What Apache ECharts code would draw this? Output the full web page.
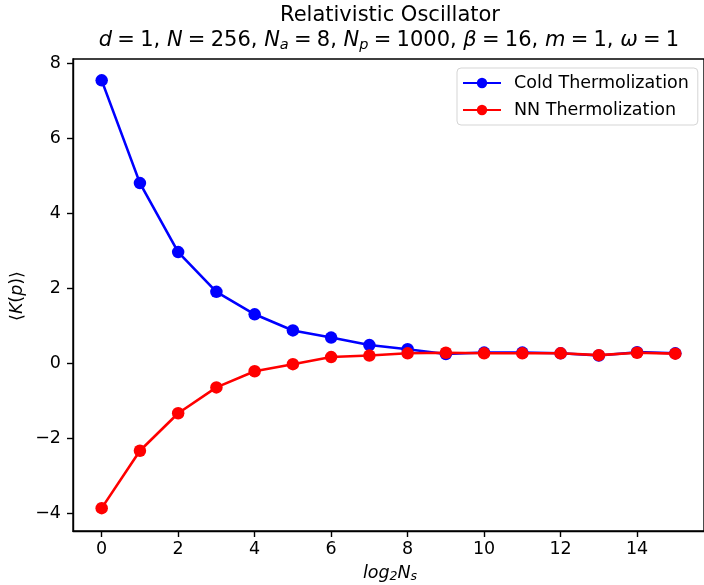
<!DOCTYPE html>
<html>
<head>
<meta charset="utf-8">
<script src="https://cdn.jsdelivr.net/npm/echarts@6/dist/echarts.min.js"></script>
<style>html,body{margin:0;padding:0;background:#fff}#c{width:704px;height:585px}</style>
</head>
<body>
<div id="c"></div>
<script>
const xValues = [0,1,2,3,4,5,6,7,8,9,10,11,12,13,14,15];
const coldValues = [7.55,4.81,2.97,1.91,1.31,0.88,0.69,0.49,0.38,0.25,0.29,0.29,0.27,0.21,0.30,0.27];
const nnValues = [-3.86,-2.33,-1.33,-0.64,-0.21,-0.02,0.17,0.21,0.27,0.285,0.27,0.27,0.27,0.22,0.285,0.26];
const xTicks = [0,2,4,6,8,10,12,14];
const yTicks = [-4,-2,0,2,4,6,8];
const seriesNames = ['Cold Thermolization','NN Thermolization'];

const FONT = 'DejaVu Sans';
const chart = echarts.init(document.getElementById('c'), null, {renderer:'canvas'});
const mk = (vals) => xValues.map((x,i)=>[x, vals[i]]);

const TF = 21;
const LF = 17.5;
const rich = {
  i:{fontFamily:FONT,fontStyle:'italic',fontSize:TF,color:'#000'},
  n:{fontFamily:FONT,fontSize:TF,color:'#000'},
  s:{fontFamily:FONT,fontStyle:'italic',fontSize:14.5,color:'#000',verticalAlign:'bottom',padding:[9,0,0,0]}
};
const EQ = '\u2005=\u2005';

chart.setOption({
  animation:false,
  backgroundColor:'#fff',
  grid:{left:73,top:59,right:-3,bottom:54,show:true,borderColor:'#000',borderWidth:1.4,backgroundColor:'transparent'},
  xAxis:{type:'value',min:-0.75,max:15.75,
    axisLine:{show:true,onZero:false,lineStyle:{color:'#000',width:1.4}},
    splitLine:{show:false},
    axisTick:{show:true,length:6,inside:false,customValues:xTicks,lineStyle:{color:'#000',width:1.4}},
    axisLabel:{customValues:xTicks,color:'#000',fontFamily:FONT,fontSize:LF,margin:9}
  },
  yAxis:{type:'value',min:-4.47,max:8.12,
    axisLine:{show:true,onZero:false,lineStyle:{color:'#000',width:1.4}},
    splitLine:{show:false},
    axisTick:{show:true,length:6,inside:false,customValues:yTicks,lineStyle:{color:'#000',width:1.4}},
    axisLabel:{customValues:yTicks,color:'#000',fontFamily:FONT,fontSize:LF,margin:12,
      formatter:(v)=> v<0 ? '\u2212'+Math.abs(v) : String(v)}
  },
  legend:{
    orient:'vertical',left:457,top:68,
    data:seriesNames,
    itemWidth:38,itemHeight:13,itemGap:9,
    padding:[6,9,6,5],
    backgroundColor:'#fff',borderColor:'#d5d5d5',borderWidth:1,borderRadius:4,
    textStyle:{fontFamily:FONT,fontSize:LF,color:'#000',padding:[0,0,0,8]}
  },
  series:[
    {name:seriesNames[0],type:'line',data:mk(coldValues),symbol:'circle',symbolSize:12.5,
     lineStyle:{color:'#0000ff',width:2.6},itemStyle:{color:'#0000ff'},z:2},
    {name:seriesNames[1],type:'line',data:mk(nnValues),symbol:'circle',symbolSize:12.5,
     lineStyle:{color:'#ff0000',width:2.6},itemStyle:{color:'#ff0000'},z:3}
  ],
  graphic:[
    {type:'text',x:390,y:16,style:{text:'Relativistic Oscillator',fontFamily:FONT,fontSize:TF,fill:'#000',align:'center',verticalAlign:'middle'}},
    {type:'text',x:389,y:41,style:{
      text:'{i|d}{n|'+EQ+'1, }{i|N}{n|'+EQ+'256, }{i|N}{s|a}{n|'+EQ+'8, }{i|N}{s|p}{n|'+EQ+'1000, }{i|\u03b2}{n|'+EQ+'16, }{i|m}{n|'+EQ+'1, }{i|\u03c9}{n|'+EQ+'1}',
      rich:rich,fontFamily:FONT,fontSize:TF,fill:'#000',align:'center',verticalAlign:'middle'}},
    {type:'text',x:390,y:573,style:{
      text:'{i|log}{s|2}{i|N}{s|s}',
      rich:{i:{fontFamily:FONT,fontStyle:'italic',fontSize:LF,color:'#000'},
            s:{fontFamily:FONT,fontStyle:'italic',fontSize:12.5,color:'#000',verticalAlign:'bottom',padding:[8,0,0,0]}},
      fontFamily:FONT,fontSize:LF,fill:'#000',align:'center',verticalAlign:'middle'}},
    {type:'text',x:17,y:296,rotation:Math.PI/2,style:{
      text:'{n|\u27e8}{i|K}{n|(}{i|p}{n|)\u27e9}',
      rich:{i:{fontFamily:FONT,fontStyle:'italic',fontSize:LF,color:'#000'},n:{fontFamily:FONT,fontSize:LF,color:'#000'}},
      fontFamily:FONT,fontSize:LF,fill:'#000',align:'center',verticalAlign:'middle'}}
  ]
});
</script>
</body>
</html>
